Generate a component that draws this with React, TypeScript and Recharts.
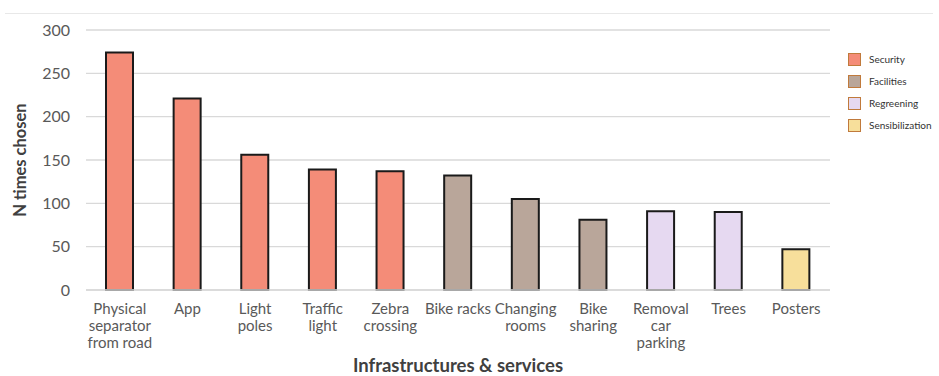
import React from 'react';
import {BarChart, Bar, XAxis, YAxis, CartesianGrid, Cell, Label} from 'recharts';

// categories, values and groups
const categories = [
    'Physical\nseparator\nfrom road',
    'App',
    'Light\npoles',
    'Traffic\nlight',
    'Zebra\ncrossing',
    'Bike racks',
    'Changing\nrooms',
    'Bike\nsharing',
    'Removal\ncar\nparking',
    'Trees',
    'Posters',
];
const timesChosen = [274, 221, 156, 139, 137, 132, 105, 81, 91, 90, 47];
const groupOf = [0, 0, 0, 0, 0, 1, 1, 1, 2, 2, 3];
const groupNames = ['Security', 'Facilities', 'Regreening', 'Sensibilization'];
const groupColors = ['#f48c78', '#b9a69a', '#e6d9f1', '#f7df9b'];
const yTicks = [0, 50, 100, 150, 200, 250, 300];

const data = categories.map((name, i) => ({name, value: timesChosen[i], group: groupOf[i]}));

const FONT = 'Lato, "Open Sans", sans-serif';

const MultiLineTick = (props: any) => {
    const {x, y, payload} = props;
    const lines = String(payload.value).split('\n');
    return (
        <text x={x} y={y} textAnchor="middle" fill="#595959" fontSize={15} fontFamily={FONT}>
            {lines.map((line, i) => (
                <tspan key={i} x={x} dy={i === 0 ? 15.5 : 17}>{line}</tspan>
            ))}
        </text>
    );
};

// legend box sits to the right of the plot area
const GroupLegend = () => (
    <div style={{position: 'absolute', left: 848, top: 48, fontFamily: FONT, fontSize: 10, color: '#333'}}>
        {groupNames.map((g, i) => (
            <div key={g} style={{display: 'flex', alignItems: 'center', height: 22}}>
                <span style={{
                    display: 'inline-block', width: 11, height: 11, background: groupColors[i],
                    border: '1.5px solid #c07a3c', marginRight: 8,
                }}/>
                <span>{g}</span>
            </div>
        ))}
    </div>
);

const App: React.FunctionComponent = () => {
    return (
        <div style={{position: 'absolute', left: 0, top: 0, width: 939, height: 376, background: '#fff'}}>
            <div style={{position: 'absolute', left: 5, top: 13, width: 928, height: 1, background: '#e8e8e8'}}/>
            <BarChart
                width={939}
                height={376}
                data={data}
                margin={{top: 30, right: 109, left: 0, bottom: 0}}
                barSize={27}
            >
                <CartesianGrid vertical={false} stroke="#d9d9d9" strokeWidth={1.3}/>
                <XAxis
                    dataKey="name"
                    height={86}
                    interval={0}
                    tickLine={false}
                    axisLine={{stroke: '#d9d9d9', strokeWidth: 1.3}}
                    tick={<MultiLineTick/>}
                >
                    <Label
                        value="Infrastructures & services"
                        position="insideBottom"
                        offset={4}
                        fill="#404040"
                        fontSize={18.5}
                        fontWeight="bold"
                        fontFamily={FONT}
                    />
                </XAxis>
                <YAxis
                    width={86}
                    domain={[0, 300]}
                    ticks={yTicks}
                    tickLine={false}
                    axisLine={false}
                    tickMargin={10}
                    tick={{fill: '#595959', fontSize: 16, fontFamily: FONT}}
                >
                    <Label
                        value="N times chosen"
                        angle={-90}
                        position="insideLeft"
                        offset={20}
                        style={{textAnchor: 'middle'}}
                        fill="#404040"
                        fontSize={16.5}
                        fontWeight="bold"
                        fontFamily={FONT}
                    />
                </YAxis>
                <Bar dataKey="value" stroke="#1a1a1a" strokeWidth={2} isAnimationActive={false}>
                    {data.map((d, i) => (
                        <Cell key={i} fill={groupColors[d.group]}/>
                    ))}
                </Bar>
            </BarChart>
            <GroupLegend/>
        </div>
    );
};

export default App;
